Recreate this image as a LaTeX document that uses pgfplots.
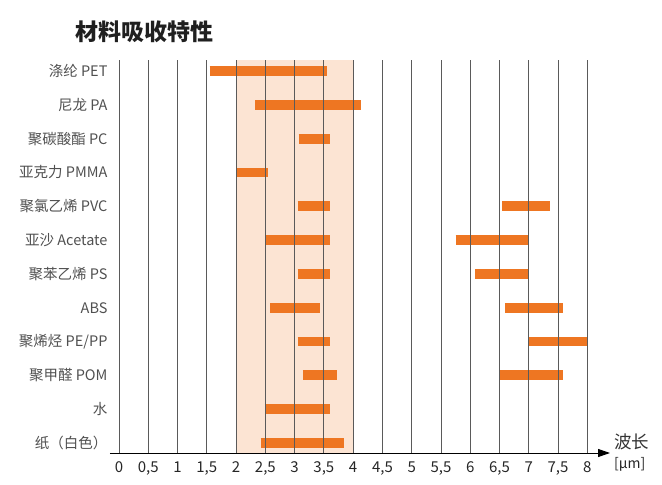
\documentclass[border=0pt]{standalone}
\usepackage{pgfplots}
\pgfplotsset{compat=1.18}
\usetikzlibrary{arrows.meta}
\usepackage{fontspec}
\setmainfont{Noto Sans CJK SC}
\definecolor{barorange}{RGB}{238,118,34}
\definecolor{shade}{RGB}{252,228,211}
\definecolor{gridc}{RGB}{90,90,90}
\definecolor{labc}{RGB}{80,80,80}
\begin{document}
\begin{tikzpicture}[x=1pt,y=1pt]
\path[use as bounding box] (0,0) rectangle (662,485);
\begin{axis}[
  at={(110pt,32pt)}, anchor=south west,
  scale only axis, width=500pt, height=393pt,
  xmin=-0.154, xmax=8.388, ymin=-0.296, ymax=11.325,
  axis on top,
  axis x line=bottom, axis y line=left,
  y axis line style={draw=none},
  x axis line style={black, line width=1pt, -{Triangle[length=12pt,width=8pt]}},
  major tick length=0pt,
  xtick={0,0.5,...,8},
  xticklabels={0,{0,5},1,{1,5},2,{2,5},3,{3,5},4,{4,5},5,{5,5},6,{6,5},7,{7,5},8},
  ytick={0,...,11},
  yticklabels={纸（白色）,水,聚甲醛 POM,聚烯烃 PE/PP,ABS,聚苯乙烯 PS,亚沙 Acetate,聚氯乙烯 PVC,亚克力 PMMA,聚碳酸酯 PC,尼龙 PA,涤纶 PET},
  xmajorgrids, grid style={gridc, line width=0.8pt},
  /pgf/number format/assume math mode=true,
  xticklabel style={font=\fontsize{15}{15}\selectfont, text=black!85, yshift=-5pt},
  yticklabel style={font=\fontsize{14.5}{15}\selectfont, text=labc, xshift=1pt},
  unbounded coords=jump,
  clip=false,
]
\addplot[fill=shade, draw=none] coordinates {(2,-0.296) (4,-0.296) (4,11.325) (2,11.325)} -- cycle;
\addplot[barorange, line width=9.8pt] coordinates {
(1.55,11) (3.55,11) (nan,nan)
(2.33,10) (4.13,10) (nan,nan)
(3.07,9) (3.6,9) (nan,nan)
(2.0,8) (2.55,8) (nan,nan)
(3.05,7) (3.6,7) (nan,nan)
(6.55,7) (7.36,7) (nan,nan)
(2.5,6) (3.6,6) (nan,nan)
(5.75,6) (7.0,6) (nan,nan)
(3.05,5) (3.6,5) (nan,nan)
(6.08,5) (7.0,5) (nan,nan)
(2.58,4) (3.43,4) (nan,nan)
(6.59,4) (7.58,4) (nan,nan)
(3.05,3) (3.6,3) (nan,nan)
(6.99,3) (8.0,3) (nan,nan)
(3.14,2) (3.73,2) (nan,nan)
(6.49,2) (7.58,2) (nan,nan)
(2.49,1) (3.6,1) (nan,nan)
(2.42,0) (3.84,0)
};
\end{axis}
\node[anchor=west, font=\fontsize{23}{23}\selectfont\bfseries, text=black!88] at (72,453) {材料吸收特性};
\node[anchor=west, font=\fontsize{17.5}{18}\selectfont, text=black!80, inner sep=0pt] at (614,43) {波长};
\node[anchor=west, font=\fontsize{14}{15}\selectfont, text=black!85, inner sep=0pt] at (614,21) {[µm]};
\end{tikzpicture}
\end{document}
